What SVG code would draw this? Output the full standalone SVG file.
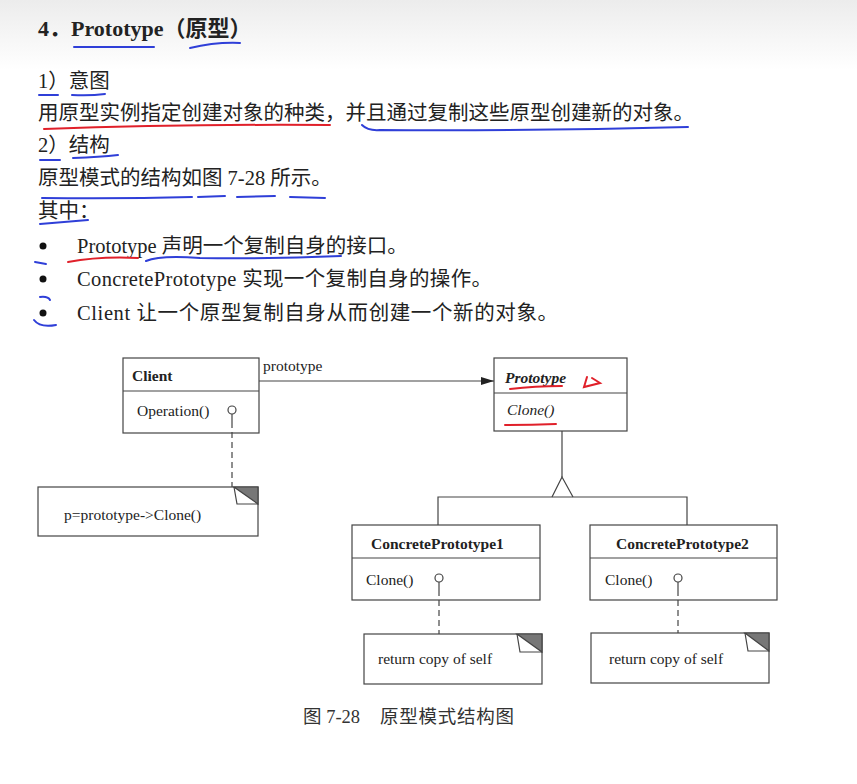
<svg xmlns="http://www.w3.org/2000/svg" width="857" height="784" viewBox="0 0 857 784">
<defs>
<linearGradient id="bg" x1="0" y1="0" x2="0" y2="1">
<stop offset="0" stop-color="#ececec"/>
<stop offset="1" stop-color="#ffffff"/>
</linearGradient>
<marker id="arr" viewBox="0 0 13 8" refX="13" refY="4" markerWidth="13" markerHeight="8" markerUnits="userSpaceOnUse" orient="auto">
<path d="M0,0 L13,4 L0,8 Z" fill="#222"/>
</marker>
<style>
.t{font-family:"Liberation Serif","Noto Sans CJK SC",serif;fill:#222;font-size:20.5px}
.h{font-size:22px;font-weight:bold}
.d{font-family:"Liberation Serif",serif;fill:#222;font-size:15.5px}
.b{font-weight:bold}
.i{font-style:italic}
.box{fill:#fff;stroke:#444;stroke-width:1.2}
.ln{fill:none;stroke:#444;stroke-width:1.2}
.dash{fill:none;stroke:#444;stroke-width:1.2;stroke-dasharray:6,4}
.cap{font-family:"Liberation Serif","Noto Sans CJK SC",serif;fill:#333;font-size:18.5px}
.blue{fill:none;stroke:#2f3fd8;stroke-width:2;stroke-linecap:round}
.red{fill:none;stroke:#e0202a;stroke-width:2;stroke-linecap:round}
</style>
</defs>
<rect x="0" y="0" width="857" height="70" fill="url(#bg)"/>
<rect x="0" y="70" width="857" height="714" fill="#fff"/>

<g id="text">
<text class="t h" x="38" y="36">4．Prototype（原型）</text>
<text class="t" x="38" y="88">1）意图</text>
<text class="t" x="38" y="120">用原型实例指定创建对象的种类，并且通过复制这些原型创建新的对象。</text>
<text class="t" x="38" y="152">2）结构</text>
<text class="t" x="38" y="185">原型模式的结构如图 7-28 所示。</text>
<text class="t" x="38" y="218">其中：</text>
<circle cx="43" cy="246" r="3.5" fill="#111"/>
<circle cx="43" cy="279" r="3.5" fill="#111"/>
<circle cx="43" cy="313" r="3.5" fill="#111"/>
<text class="t" x="77" y="253">Prototype 声明一个复制自身的接口。</text>
<text class="t" x="77" y="286" textLength="415" lengthAdjust="spacing">ConcretePrototype 实现一个复制自身的操作。</text>
<text class="t" x="77" y="320" textLength="481" lengthAdjust="spacing">Client 让一个原型复制自身从而创建一个新的对象。</text>
</g>

<g id="client">
<rect class="box" x="123" y="358" width="136" height="75"/>
<path class="ln" d="M123,391 L259,391"/>
<text class="d b" x="132" y="381">Client</text>
<text class="d" x="137" y="416">Operation()</text>
</g>

<g id="prototype">
<rect class="box" x="494" y="358" width="133" height="73"/>
<path class="ln" d="M494,393 L627,393"/>
<text class="d b i" x="505" y="383">Prototype</text>
<text class="d i" x="507" y="415">Clone()</text>
</g>

<g id="concrete1">
<rect class="box" x="352" y="525" width="188" height="75"/>
<path class="ln" d="M352,558 L540,558"/>
<text class="d b" x="371" y="549">ConcretePrototype1</text>
<text class="d" x="366" y="585">Clone()</text>
</g>

<g id="concrete2">
<rect class="box" x="590" y="525" width="187" height="75"/>
<path class="ln" d="M590,558 L777,558"/>
<text class="d b" x="616" y="549">ConcretePrototype2</text>
<text class="d" x="605" y="585">Clone()</text>
</g>

<g id="note-client">
<rect class="box" x="38" y="487" width="220" height="49"/>
<path d="M234,487 L258,487 L258,504 Z" fill="#777" stroke="#444" stroke-width="1.2"/>
<path class="ln" d="M234,487 L237,504 L258,504"/>
<text class="d" x="64" y="520">p=prototype-&gt;Clone()</text>
</g>

<g id="note-cp1">
<rect class="box" x="364" y="634" width="178" height="50"/>
<path d="M517,634 L542,634 L542,652 Z" fill="#777" stroke="#444" stroke-width="1.2"/>
<path class="ln" d="M517,634 L520,652 L542,652"/>
<text class="d" x="378" y="664">return copy of self</text>
</g>

<g id="note-cp2">
<rect class="box" x="591" y="633" width="178" height="50"/>
<path d="M745,633 L769,633 L769,651 Z" fill="#777" stroke="#444" stroke-width="1.2"/>
<path class="ln" d="M745,633 L748,651 L769,651"/>
<text class="d" x="609" y="664">return copy of self</text>
</g>

<g id="connectors">
<path class="ln" d="M259,381 L494,381" marker-end="url(#arr)"/>
<text class="d" x="263" y="371">prototype</text>
<path class="ln" d="M562,431 L562,477"/>
<path class="ln" d="M552,497 L562,477 L573,497"/>
<path class="ln" d="M438,525 L438,497 L687,497 L687,525"/>
<path class="ln" d="M232,414 L232,422"/>
<path class="dash" d="M232,422 L232,487"/>
<circle cx="232" cy="410" r="4" fill="#fff" stroke="#444" stroke-width="1.2"/>
<path class="ln" d="M439,582 L439,590"/>
<path class="dash" d="M439,590 L439,634"/>
<circle cx="439" cy="578" r="4" fill="#fff" stroke="#444" stroke-width="1.2"/>
<path class="ln" d="M678,582 L678,590"/>
<path class="dash" d="M678,590 L678,633"/>
<circle cx="678" cy="578" r="4" fill="#fff" stroke="#444" stroke-width="1.2"/>
</g>

<g id="caption">
<text class="cap" x="303" y="723">图 7-28</text>
<text class="cap" x="380" y="723" textLength="134" lengthAdjust="spacing">原型模式结构图</text>
</g>

<g id="annotations">
<path class="blue" d="M74,47 L154,47"/>
<path class="blue" d="M190,48 Q215,42 240,43"/>
<path class="blue" d="M39,95 L58,95"/>
<path class="blue" d="M72,95 Q90,96 105,94"/>
<path class="red" d="M44,129 Q180,124 330,125"/>
<path class="blue" d="M362,125 Q368,131 380,130 Q530,131 688,127"/>
<path class="blue" d="M40,160 L60,160"/>
<path class="blue" d="M73,158 Q100,157 118,155"/>
<path class="blue" d="M42,198 Q120,199 192,197"/>
<path class="blue" d="M198,197 L225,196"/>
<path class="blue" d="M237,197 L275,196"/>
<path class="blue" d="M290,197 L325,198"/>
<path class="blue" d="M40,224 Q65,222 88,220"/>
<path class="red" d="M68,262 Q100,256 138,258"/>
<path class="blue" d="M146,261 Q160,255 200,258 Q270,259 341,256"/>
<path class="blue" d="M35,262 L46,264"/>
<path class="blue" d="M40,297 Q48,296 50,300"/>
<path class="blue" d="M34,320 Q40,328 56,325"/>
<path class="red" d="M510,389 Q535,386 562,386"/>
<path class="red" d="M587,377 L584,387 L600,383 L592,378"/>
<path class="red" d="M505,425 Q530,425 556,424"/>
</g>
</svg>
